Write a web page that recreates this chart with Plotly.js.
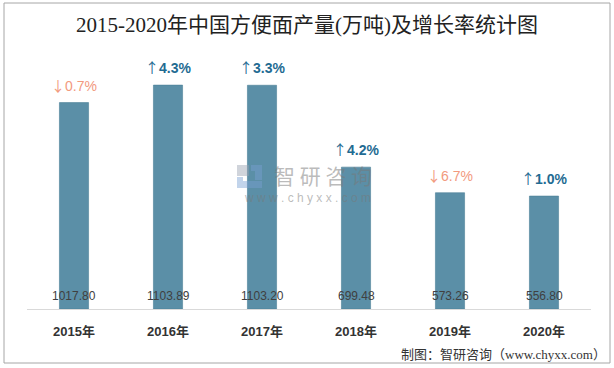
<!DOCTYPE html>
<html>
<head>
<meta charset="utf-8">
<script src="https://cdn.plot.ly/plotly-3.0.1.min.js"></script>
<style>html,body{margin:0;padding:0;background:#fff;}#chart{width:614px;height:368px;}</style>
</head>
<body>
<div id="chart"></div>
<script>
var years = ['2015年', '2016年', '2017年', '2018年', '2019年', '2020年'];
var output = [1017.80, 1103.89, 1103.20, 699.48, 573.26, 556.80];
var growthArrow = ['↓', '↑', '↑', '↑', '↓', '↑'];
var growthPct = ['0.7%', '4.3%', '3.3%', '4.2%', '6.7%', '1.0%'];
var growthUp = [false, true, true, true, false, true];

// plot-area geometry (pixels) used only for decorative placement
var L = 27, R = 23, T = 50, B = 59, W = 614, H = 368;
var PW = W - L - R, PH = H - T - B;
function px(x) { return (x - L) / PW; }
function py(y) { return (H - B - y) / PH; }

var annotations = [];
years.forEach(function (c, i) {
  var arrow = '<span style="font-family:\'Noto Sans CJK SC\';font-weight:normal">' + growthArrow[i] + '</span>';
  var txt = arrow + (growthUp[i] ? '<b>' + growthPct[i] + '</b>' : growthPct[i]);
  annotations.push({
    x: c, y: output[i], xref: 'x', yref: 'y', yshift: 18, showarrow: false,
    text: txt,
    font: {family: 'Liberation Sans, Noto Sans CJK SC', size: 14, color: growthUp[i] ? '#1F6B92' : '#F29A7E'},
    xanchor: 'center', yanchor: 'middle'
  });
  annotations.push({
    x: c, y: 0, xref: 'x', yref: 'y', yshift: 13, showarrow: false,
    text: output[i].toFixed(2),
    font: {family: 'Liberation Sans', size: 12, color: '#404040'},
    xanchor: 'center', yanchor: 'middle'
  });
});
// watermark
annotations.push({x: px(323), y: py(175), xref: 'paper', yref: 'paper', showarrow: false,
  text: '智 研 咨 询', font: {family: 'Noto Sans CJK SC', size: 21, color: 'rgba(120,120,120,0.5)'},
  xanchor: 'center', yanchor: 'middle'});
annotations.push({x: px(307), y: py(198), xref: 'paper', yref: 'paper', showarrow: false,
  text: 'w w w . c h y x x . c o m', font: {family: 'Liberation Sans', size: 12, color: 'rgba(120,120,120,0.5)'},
  xanchor: 'center', yanchor: 'middle'});
// footer
annotations.push({x: px(608), y: py(354), xref: 'paper', yref: 'paper', showarrow: false,
  text: '制图：智研咨询（www.chyxx.com）', font: {family: 'Liberation Serif, Noto Sans CJK SC', size: 13, color: '#333333'},
  xanchor: 'right', yanchor: 'middle'});

var shapes = [
  {type: 'rect', xref: 'paper', yref: 'paper', x0: px(4), x1: px(610), y0: py(363), y1: py(3),
   line: {color: '#A6A6A6', width: 1}, fillcolor: 'rgba(0,0,0,0)', layer: 'below'},
  {type: 'rect', xref: 'paper', yref: 'paper', x0: px(237), x1: px(249), y0: py(176), y1: py(165),
   line: {width: 0}, fillcolor: 'rgba(150,160,175,0.45)', layer: 'above'},
  {type: 'rect', xref: 'paper', yref: 'paper', x0: px(251), x1: px(262), y0: py(171), y1: py(165),
   line: {width: 0}, fillcolor: 'rgba(120,160,210,0.45)', layer: 'above'},
  {type: 'rect', xref: 'paper', yref: 'paper', x0: px(255), x1: px(262), y0: py(180), y1: py(171),
   line: {width: 0}, fillcolor: 'rgba(120,160,210,0.45)', layer: 'above'},
  {type: 'rect', xref: 'paper', yref: 'paper', x0: px(237), x1: px(262), y0: py(188), y1: py(181),
   line: {width: 0}, fillcolor: 'rgba(120,160,210,0.45)', layer: 'above'},
  {type: 'rect', xref: 'paper', yref: 'paper', x0: px(237), x1: px(243), y0: py(181), y1: py(177),
   line: {width: 0}, fillcolor: 'rgba(120,160,210,0.45)', layer: 'above'}
];

var trace = {
  type: 'bar', x: years, y: output,
  marker: {color: '#5B8FA7', line: {color: '#4C7F97', width: 0.6}},
  hoverinfo: 'x+y'
};

var layout = {
  width: W, height: H,
  margin: {l: L, r: R, t: T, b: B, pad: 0},
  paper_bgcolor: '#ffffff', plot_bgcolor: '#ffffff',
  title: {text: '2015-2020年中国方便面产量(万吨)及增长率统计图',
    font: {family: 'Liberation Serif, Noto Sans CJK SC', size: 21, color: '#222222'},
    x: 0.5, xref: 'container', xanchor: 'center', y: 1 - 25 / H, yref: 'container', yanchor: 'middle'},
  bargap: 0.69,
  xaxis: {type: 'category', showgrid: false, zeroline: false, showline: true, linecolor: '#D9D9D9', linewidth: 1,
    ticks: 'outside', ticklen: 10, tickcolor: 'rgba(0,0,0,0)',
    tickfont: {family: 'Liberation Sans, Noto Sans CJK SC', size: 13, color: '#333333', weight: 'bold'}},
  yaxis: {range: [0, 1277], visible: false, showgrid: false, zeroline: false, fixedrange: true},
  showlegend: false,
  annotations: annotations,
  shapes: shapes
};

Plotly.newPlot('chart', [trace], layout, {displayModeBar: false, staticPlot: true});
</script>
</body>
</html>
